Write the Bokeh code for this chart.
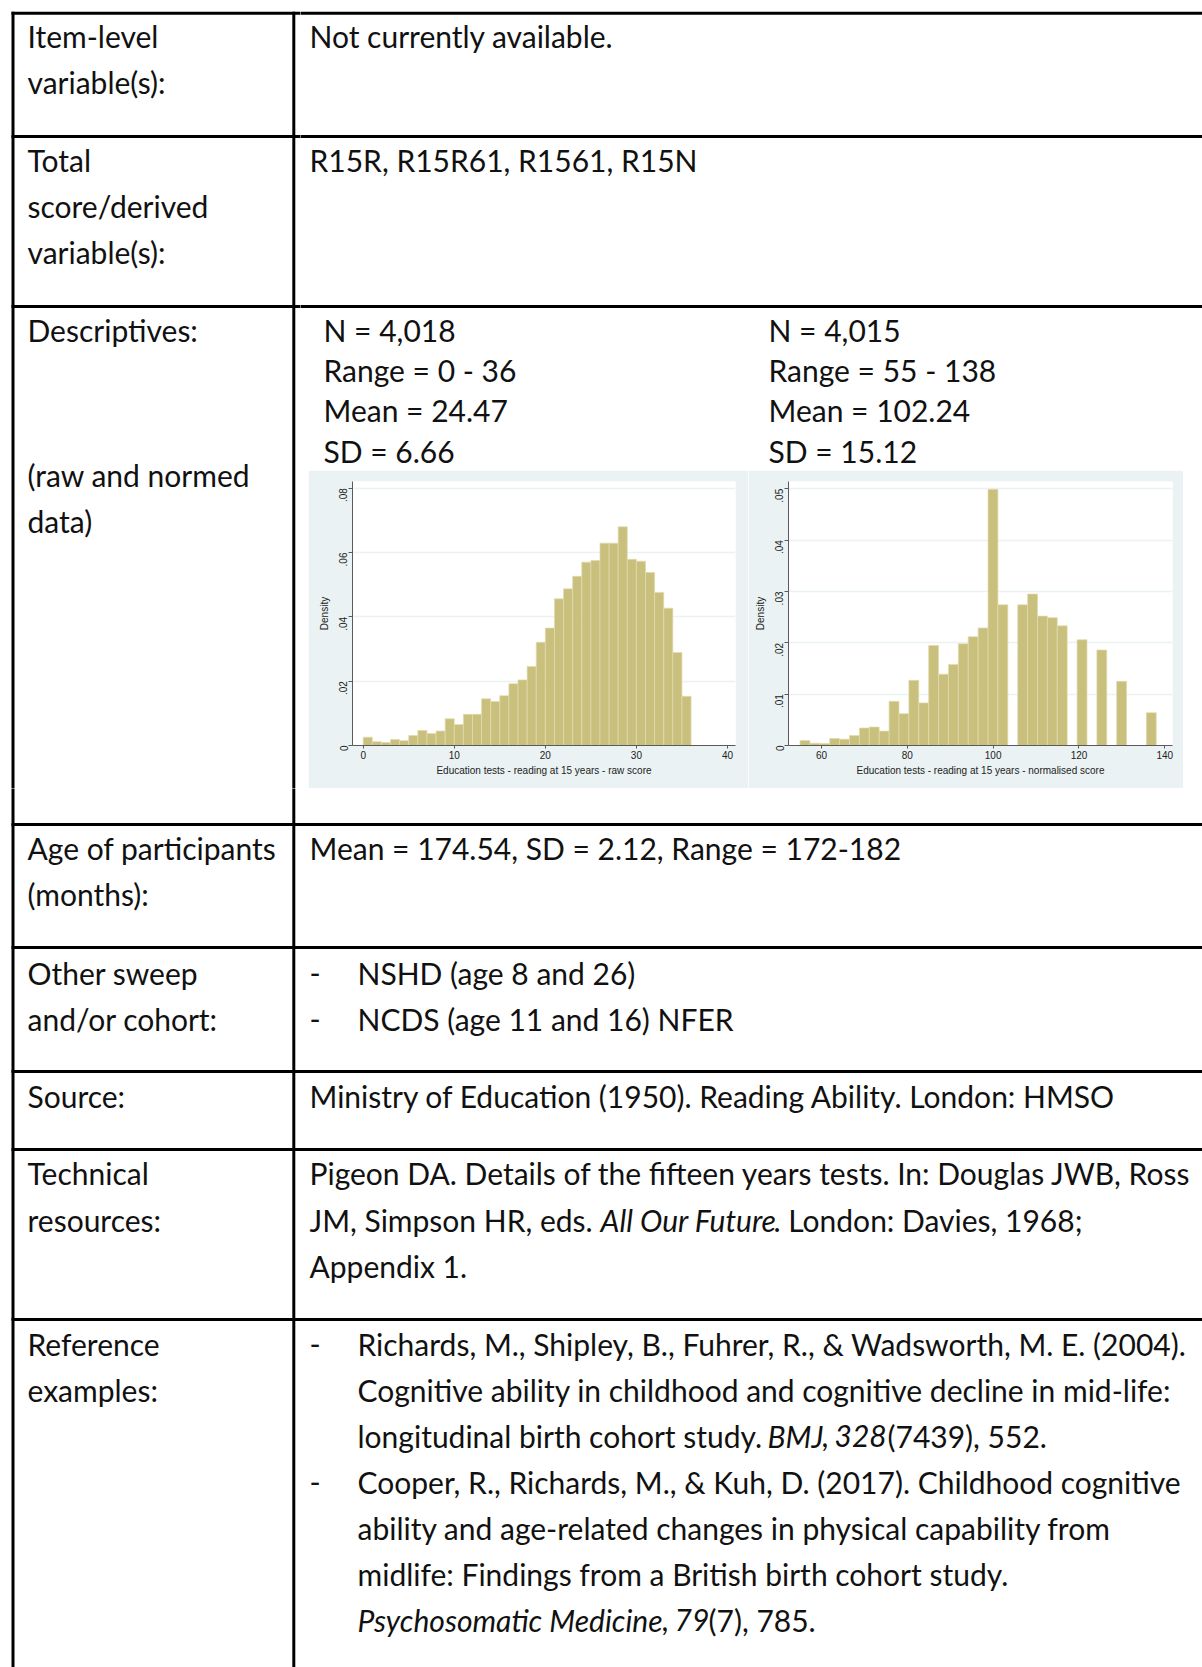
import math
import numpy as np
from bokeh.plotting import figure
from bokeh.layouts import row, column
from bokeh.models import Range1d, FixedTicker, ColumnDataSource, CustomJSTickFormatter
from bokeh.core.properties import value
from bokeh.embed import file_html
from bokeh.resources import INLINE

# ---------------- data ----------------
raw_range = (0, 36)
raw_density = [0.0026, 0.0012, 0.0009, 0.0019, 0.0015, 0.0031, 0.0047, 0.0037, 0.0045,
               0.0083, 0.0065, 0.0097, 0.0097, 0.0145, 0.0137, 0.0155, 0.0192, 0.0204,
               0.0246, 0.0321, 0.0365, 0.0456, 0.0487, 0.0526, 0.0570, 0.0575, 0.0629,
               0.0629, 0.0680, 0.0579, 0.0573, 0.0538, 0.0476, 0.0427, 0.0289, 0.0153]
norm_range = (55, 138)
norm_density = [0.00097, 0.00045, 0.0004, 0.00136, 0.00123, 0.00195, 0.0034, 0.0036, 0.0028,
                0.0086, 0.0062, 0.0127, 0.0083, 0.0195, 0.0139, 0.0158, 0.0198, 0.0212,
                0.0229, 0.0499, 0.0274, 0.0, 0.0274, 0.0295, 0.0252, 0.0249, 0.0233,
                0.0, 0.0206, 0.0, 0.0186, 0.0, 0.0125, 0.0, 0.0, 0.0064]
raw_xticks = [0, 10, 20, 30, 40]
raw_yticks = [0, 0.02, 0.04, 0.06, 0.08]
norm_xticks = [60, 80, 100, 120, 140]
norm_yticks = [0, 0.01, 0.02, 0.03, 0.04, 0.05]
raw_xtitle = "Education tests - reading at 15 years - raw score"
norm_xtitle = "Education tests - reading at 15 years - normalised score"
y_title = "Density"
raw_stats = ["N = 4,018", "Range = 0 - 36", "Mean = 24.47", "SD = 6.66"]
norm_stats = ["N = 4,015", "Range = 55 - 138", "Mean = 102.24", "SD = 15.12"]

# ---------------- style ----------------
FONT = "Lato"
FS = "30px"
INK = "#111111"
PANEL = "#eaf2f3"
BAR = "#c9c07e"
LW = 3
W, H = 1202, 1667


def canvas(x0, x1, y0, y1):
    p = figure(width=round(x1 - x0), height=round(y1 - y0),
               x_range=Range1d(x0, x1), y_range=Range1d(y1, y0),
               x_axis_location=None, y_axis_location=None,
               output_backend="svg", toolbar_location=None, min_border=0)
    p.grid.visible = False
    p.outline_line_color = None
    p.background_fill_color = "white"
    p.border_fill_color = "white"
    return p


def put(p, items, style="normal"):
    if not items:
        return
    p.text(x=[i[0] for i in items], y=[i[1] for i in items], text=[i[2] for i in items],
           text_font=value(FONT), text_font_size=FS, text_font_style=style,
           text_color=INK, text_baseline="middle", text_align="left")


def hlines(p, ys, x0, x1):
    p.segment(x0=[x0] * len(ys), y0=ys, x1=[x1] * len(ys), y1=ys, line_width=LW, line_color="black")


def vlines(p, xs, y0, y1):
    p.segment(x0=xs, y0=[y0] * len(xs), x1=xs, y1=[y1] * len(xs), line_width=LW, line_color="black")


def histogram(rng, dens, xr, yr, xticks, yticks, xtitle, width, ml, mr):
    d = np.array(dens)
    edges = np.linspace(rng[0], rng[1], len(d) + 1)
    keep = d > 0
    src = ColumnDataSource(dict(left=edges[:-1][keep], right=edges[1:][keep], top=d[keep]))
    p = figure(width=width, height=318, x_range=Range1d(*xr), y_range=Range1d(*yr),
               output_backend="svg", toolbar_location=None,
               min_border_left=ml, min_border_right=mr, min_border_top=11, min_border_bottom=43)
    p.background_fill_color = "white"
    p.border_fill_color = PANEL
    p.outline_line_color = None
    p.xgrid.visible = False
    p.ygrid.ticker = FixedTicker(ticks=yticks)
    p.ygrid.grid_line_color = PANEL
    p.ygrid.grid_line_width = 1.5
    p.quad(left="left", right="right", bottom=0, top="top", source=src,
           fill_color=BAR, line_color="#e2dbae", line_width=0.7)
    p.xaxis.ticker = FixedTicker(ticks=xticks)
    p.yaxis.ticker = FixedTicker(ticks=yticks)
    p.yaxis.formatter = CustomJSTickFormatter(
        code="return tick == 0 ? '0' : tick.toFixed(2).replace(/^0/, '');")
    p.xaxis.axis_label = xtitle
    p.yaxis.axis_label = y_title
    for ax in (p.xaxis[0], p.yaxis[0]):
        ax.axis_line_color = "#5a5a5a"
        ax.major_tick_line_color = "#5a5a5a"
        ax.minor_tick_line_color = None
        ax.major_tick_out = 3
        ax.major_tick_in = 0
        ax.major_label_text_font = "Liberation Sans"
        ax.major_label_text_font_size = "10px"
        ax.major_label_text_color = "#222222"
        ax.axis_label_text_font = "Liberation Sans"
        ax.axis_label_text_font_size = "10px"
        ax.axis_label_text_font_style = "normal"
        ax.axis_label_text_color = "#222222"
        ax.major_label_standoff = 2
        ax.axis_label_standoff = 3
    p.yaxis.major_tick_out = 4
    p.yaxis.major_label_standoff = 5
    p.yaxis.major_label_orientation = math.pi / 2
    return p


# ---------------- table pieces ----------------
X_L, X_D = 12.5, 293.3
ROW_TOP = 12.8
ROWS_UP = [136, 306]
ROWS_LOW = [824, 947, 1071, 1149, 1319]

left = canvas(0, 300, 0, 788)
hlines(left, [ROW_TOP] + ROWS_UP, X_L - 1.5, 310)
vlines(left, [X_L, X_D], ROW_TOP - 1.5, 800)
put(left, [(27, 35, "Item-level"), (27, 81, "variable(s):"),
           (27, 159, "Total"), (27, 205, "score/derived"), (27, 251, "variable(s):"),
           (27, 329, "Descriptives:"),
           (27, 474, "(raw and normed"), (27, 520, "data)")])

topr = canvas(300, W, 0, 470)
hlines(topr, [ROW_TOP] + ROWS_UP, 290, W + 10)
put(topr, [(309, 35, "Not currently available."),
           (309, 159, "R15R, R15R61, R1561, R15N")]
    + [(323, y, s) for y, s in zip([329, 369, 409, 450], raw_stats)]
    + [(768, y, s) for y, s in zip([329, 369, 409, 450], norm_stats)])

sp1 = canvas(300, 308, 470, 788)
sp2 = canvas(1183, W, 470, 788)

h1 = histogram(raw_range, raw_density, (-1.175, 40.88), (0, 0.08208),
               raw_xticks, raw_yticks, raw_xtitle, 440, 44, 13)
h2 = histogram(norm_range, norm_density, (52.31, 141.79), (0, 0.05142),
               norm_xticks, norm_yticks, norm_xtitle, 435, 40, 11)

bot = canvas(0, W, 788, H)
hlines(bot, ROWS_LOW, X_L - 1.5, W + 10)
vlines(bot, [X_L, X_D], 776, H + 10)
put(bot, [(27, 847, "Age of participants"), (27, 893, "(months):"),
          (27, 972, "Other sweep"), (27, 1018, "and/or cohort:"),
          (27, 1095, "Source:"),
          (27, 1172, "Technical"), (27, 1219, "resources:"),
          (27, 1343, "Reference"), (27, 1389, "examples:"),
          (309, 847, "Mean = 174.54, SD = 2.12, Range = 172-182"),
          (309, 972, "-"), (357, 972, "NSHD (age 8 and 26)"),
          (309, 1018, "-"), (357, 1018, "NCDS (age 11 and 16) NFER"),
          (309, 1095, "Ministry of Education (1950). Reading Ability. London: HMSO"),
          (309, 1172, "Pigeon DA. Details of the fifteen years tests. In: Douglas JWB, Ross"),
          (309, 1219, "JM, Simpson HR, eds."), (773, 1219, ". London: Davies, 1968;"),
          (309, 1265, "Appendix 1."),
          (309, 1343, "-"), (357, 1343, "Richards, M., Shipley, B., Fuhrer, R., & Wadsworth, M. E. (2004)."),
          (357, 1389, "Cognitive ability in childhood and cognitive decline in mid-life:"),
          (357, 1435, "longitudinal birth cohort study."), (821, 1435, ","), (887, 1435, "(7439), 552."),
          (309, 1481, "-"), (357, 1481, "Cooper, R., Richards, M., & Kuh, D. (2017). Childhood cognitive"),
          (357, 1527, "ability and age-related changes in physical capability from"),
          (357, 1573, "midlife: Findings from a British birth cohort study."),
          (661, 1619, ","), (708, 1619, "(7), 785.")])
put(bot, [(600, 1219, "All Our Future"), (767, 1435, "BMJ"), (834, 1435, "328"),
          (357, 1619, "Psychosomatic Medicine"), (674, 1619, "79")], style="italic")

layout = column(row(left, column(topr, row(sp1, h1, h2, sp2))), bot)

open("out.html", "w").write(file_html(layout, INLINE))
